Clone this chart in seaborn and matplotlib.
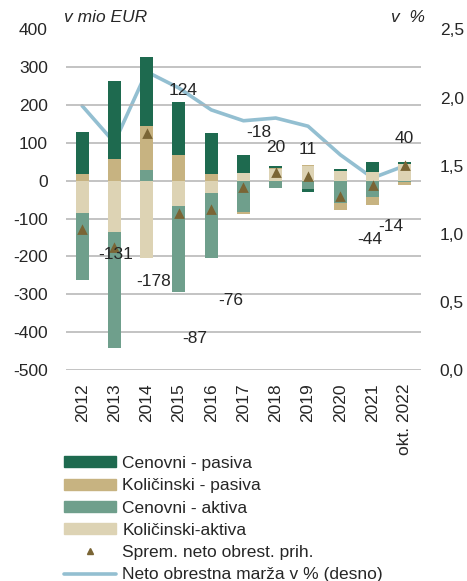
import numpy as np
import pandas as pd
import seaborn as sns
import matplotlib.pyplot as plt
from matplotlib.patches import Patch
from matplotlib.lines import Line2D

### DATA
years = ["2012", "2013", "2014", "2015", "2016", "2017", "2018", "2019", "2020", "2021", "okt. 2022"]
kol_aktiva = [-84, -134, -204, -66, -32, 22, 31, 38, 27, 23, 44]
cen_aktiva = [-177, -308, 29, -229, -171, -83, -19, -21, -59, -42, -3]
kol_pasiva = [17, 57, 116, 68, 18, -4, 3, 3, -17, -21, -7]
cen_pasiva = [113, 207, 183, 140, 109, 47, 5, -9, 5, 26, 6]
neto_prih = [-131, -178, 124, -87, -76, -18, 20, 11, -44, -14, 40]
marza = [1.94, 1.67, 2.19, 2.07, 1.91, 1.83, 1.85, 1.79, 1.58, 1.41, 1.50]

# where the (hand moved) data labels sit
label_x = [1.04, 2.2, 3.13, 3.5, 4.6, 5.48, 6.0, 7.0, 8.9, 9.57, 9.97]
label_y = [-196, -267, 239, -418, -315, 127, 87, 82, -156, -121, 111]

### STYLE
sns.set_style("white")
plt.rcParams['font.family'] = ['Liberation Sans', 'DejaVu Sans']
plt.rcParams['axes.unicode_minus'] = False
fs = 12.5

c_cp = "#1e6a4f"
c_kp = "#c7b381"
c_ca = "#6f9f8c"
c_ka = "#ddd3b4"
c_tri = "#7a6535"
c_line = "#93bfd1"

fig = plt.figure(figsize=(4.67, 5.81), dpi=100)
ax = fig.add_axes([66 / 467, 1 - 370 / 581, 355 / 467, 340.5 / 581])

### stacked bars, positives up and negatives down, order Ka, Ca, Kp, Cp
df = pd.DataFrame({"leto": years, "Ka": kol_aktiva, "Ca": cen_aktiva, "Kp": kol_pasiva, "Cp": cen_pasiva})
pos = np.zeros(len(years))
neg = np.zeros(len(years))
for col, colr in [("Ka", c_ka), ("Ca", c_ca), ("Kp", c_kp), ("Cp", c_cp)]:
    vals = df[col].to_numpy(dtype=float)
    bottom = np.where(vals >= 0, pos, neg)
    sns.barplot(data=df, x="leto", y=col, order=years, color=colr, width=0.4,
                errorbar=None, bottom=bottom, saturation=1, linewidth=0, ax=ax)
    pos = pos + np.clip(vals, 0, None)
    neg = neg + np.clip(vals, None, 0)

# triangles
sns.pointplot(x=years, y=neto_prih, order=years, color=c_tri, marker="^", markersize=4.5,
              linestyle="none", errorbar=None, ax=ax, zorder=5)

for x, y, v in zip(label_x, label_y, neto_prih):
    ax.text(x, y, str(v), ha="center", va="center", fontsize=fs, zorder=10)

ax.set_ylim(-500, 400)
ax.set_yticks(range(-500, 401, 100))
ax.set_xlim(-0.5, len(years) - 0.5)
ax.yaxis.grid(True, color="#b3b3b3", linewidth=1.1)
ax.set_axisbelow(True)
ax.set_xlabel("")
ax.set_ylabel("")
ax.tick_params(axis="y", length=0, pad=13, labelsize=fs)
ax.tick_params(axis="x", length=0, pad=9.5, labelsize=fs, rotation=90)
for s in ax.spines.values():
    s.set_visible(False)

### margin line on the right axis
ax2 = ax.twinx()
sns.pointplot(x=years, y=marza, order=years, color=c_line, marker="", linewidth=2.6,
              errorbar=None, ax=ax2)
ax2.set_ylim(0, 2.5)
ax2.set_yticks([0, 0.5, 1.0, 1.5, 2.0, 2.5])
ax2.set_yticklabels(["0,0", "0,5", "1,0", "1,5", "2,0", "2,5"])
ax2.set_xlim(-0.5, len(years) - 0.5)
ax2.set_ylabel("")
ax2.tick_params(axis="y", length=0, pad=13.5, labelsize=fs)
for s in ax2.spines.values():
    s.set_visible(False)
ax.set_zorder(ax2.get_zorder() + 1)
ax.patch.set_visible(False)

fig.text(64 / 467, 1 - 17 / 581, "v mio EUR", fontsize=fs, style="italic", va="center", ha="left")
fig.text(425 / 467, 1 - 17 / 581, "v  %", fontsize=fs, style="italic", va="center", ha="right")

### legend
handles = [
    Patch(color=c_cp, label="Cenovni - pasiva"),
    Patch(color=c_kp, label="Količinski - pasiva"),
    Patch(color=c_ca, label="Cenovni - aktiva"),
    Patch(color=c_ka, label="Količinski-aktiva"),
    Line2D([], [], color=c_tri, marker="^", linestyle="none", markersize=4.5, label="Sprem. neto obrest. prih."),
    Line2D([], [], color=c_line, linewidth=2.6, label="Neto obrestna marža v % (desno)"),
]
fig.legend(handles=handles, loc="upper left", bbox_to_anchor=(64 / 467, 1 - 456 / 581),
           frameon=False, fontsize=fs, borderpad=0, borderaxespad=0, handlelength=3.0,
           handleheight=0.6, handletextpad=0.35, labelspacing=0.42)

fig.savefig("out.png", dpi=100)
